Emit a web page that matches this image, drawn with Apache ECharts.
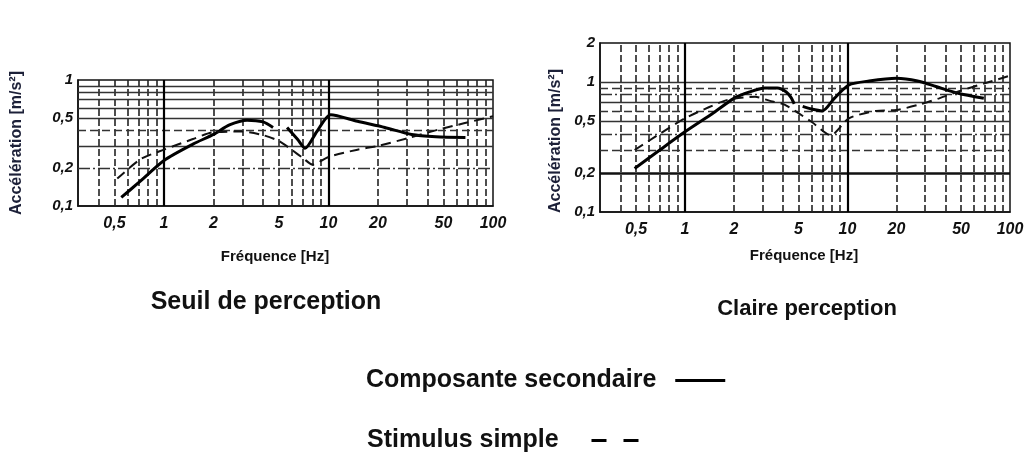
<!DOCTYPE html>
<html><head><meta charset="utf-8">
<script src="https://cdn.jsdelivr.net/npm/echarts@6/dist/echarts.min.js"></script>
<style>html,body{margin:0;padding:0;background:#fff}#c{width:1027px;height:457px}</style>
</head><body><div id="c"></div>
<script>
// ---- data ----
const xTickLabels = [0.5, 1, 2, 5, 10, 20, 50, 100];
const yTickLabelsLeft = [0.1, 0.2, 0.5, 1];
const yTickLabelsRight = [0.1, 0.2, 0.5, 1, 2];
const xGridMinor = [0.4, 0.5, 0.6, 0.7, 0.8, 0.9, 2, 3, 4, 5, 6, 7, 8, 9, 20, 30, 40, 50, 60, 70, 80, 90];
const xGridMajor = [1, 10];
const yGridLeft = [0.2, 0.3, 0.4, 0.5, 0.6, 0.7, 0.8, 0.9];
const yGridRight = [0.2, 0.3, 0.4, 0.5, 0.6, 0.7, 0.8, 0.9, 1];

const solidLeft = [[0.55,0.117],[0.7,0.153],[1,0.23],[1.5,0.31],[2,0.37],[2.5,0.44],[3.2,0.48],[4,0.465],[4.6,0.42],[5,null],
  [5.6,0.42],[6.5,0.337],[7.2,0.287],[8.5,0.39],[10.3,0.53],[15,0.47],[22,0.42],[32,0.37],[45,0.355],[68,0.35]];
const dashLeft = [[0.52,0.165],[0.72,0.235],[1,0.28],[1.5,0.34],[2,0.385],[3,0.39],[4,0.365],[5,0.328],[6,0.278],[7,0.24],[8,0.213],
  [10,0.245],[15,0.28],[20,0.3],[31,0.348],[47,0.405],[100,0.515]];
const solidRight = [[0.49,0.216],[0.7,0.3],[1,0.414],[1.5,0.58],[2,0.75],[2.5,0.84],[3.1,0.9],[3.7,0.9],[4.2,0.84],[4.5,0.76],[4.7,0.68],[5,null],
  [5.3,0.65],[6,0.62],[7,0.6],[8.3,0.75],[10.2,0.95],[13.6,1.02],[20,1.07],[27,1.02],[35,0.925],[48,0.82],[69,0.75]];
const dashRight = [[0.49,0.3],[0.7,0.4],[1,0.526],[1.4,0.64],[1.83,0.73],[2.7,0.77],[3.3,0.72],[4.1,0.67],[6,0.495],[7.9,0.39],
  [10.2,0.526],[15,0.6],[20,0.61],[27.5,0.67],[36.7,0.75],[48.6,0.85],[70,0.98],[100,1.12]];

// ---- chart ----
const FONT = 'Liberation Sans, Arial, sans-serif';
const chart = echarts.init(document.getElementById('c'), null, {renderer: 'canvas'});
const comma = v => String(v).replace('.', ',');

const minorV = {color: '#222', width: 1.6, type: [7, 3]};
const majorV = {color: '#000', width: 2.2, type: 'solid'};
const hSolid = {color: '#333', width: 1.3, type: 'solid'};
const hDash = {color: '#333', width: 1.3, type: [8, 4]};
const hDashDot = {color: '#333', width: 1.3, type: [12, 3, 2, 3]};
const hThick = {color: '#111', width: 2.5, type: 'solid'};
const leftHStyle = {0.2: hDashDot, 0.4: hDash};
const rightHStyle = {0.2: hThick, 0.3: hDash, 0.4: hDashDot, 0.6: hDash, 0.8: hDashDot, 0.9: hDash};

function gridLines(yVals, styleMap) {
  const d = [];
  xGridMinor.forEach(v => d.push({xAxis: v, lineStyle: minorV}));
  yVals.forEach(v => d.push({yAxis: v, lineStyle: styleMap[v] || hSolid}));
  xGridMajor.forEach(v => d.push({xAxis: v, lineStyle: majorV}));
  return d;
}

function xAxisDef(idx) {
  return {
    type: 'log', logBase: 10, gridIndex: idx, min: 0.3, max: 100,
    axisLine: {show: true, lineStyle: {color: '#111', width: 1.5}},
    axisTick: {show: false},
    splitLine: {show: false},
    minorTick: {show: false},
    axisLabel: {customValues: xTickLabels, formatter: comma, fontFamily: FONT, fontSize: 16,
      fontStyle: 'italic', fontWeight: 'bold', color: '#111', margin: 10}
  };
}
function yAxisDef(idx, max, labels) {
  return {
    type: 'log', logBase: 10, gridIndex: idx, min: 0.1, max: max,
    axisLine: {show: true, lineStyle: {color: '#111', width: 1.5}},
    axisTick: {show: false},
    splitLine: {show: false},
    axisLabel: {customValues: labels, formatter: comma, fontFamily: FONT, fontSize: 15,
      fontStyle: 'italic', fontWeight: 'bold', color: '#111', margin: 5}
  };
}
function curve(name, idx, data, dashed) {
  return {
    name: name, type: 'line', xAxisIndex: idx, yAxisIndex: idx, data: data, color: '#000',
    symbol: 'none', smooth: 0.25, connectNulls: false, z: 5, silent: true,
    lineStyle: dashed ? {color: '#111', width: 2, type: [10, 6]} : {color: '#000', width: 3, type: 'solid'}
  };
}
function gridSeries(idx, yVals, styleMap) {
  return {
    type: 'line', xAxisIndex: idx, yAxisIndex: idx, data: [], z: 1, silent: true,
    markLine: {silent: true, symbol: ['none', 'none'], label: {show: false}, animation: false, data: gridLines(yVals, styleMap)}
  };
}

const legendText = {fontFamily: FONT, fontSize: 25, fontWeight: 'bold', color: '#111'};

chart.setOption({
  animation: false,
  backgroundColor: '#fff',
  grid: [
    {left: 78, top: 80, width: 415, height: 126, show: true, borderColor: '#111', borderWidth: 1.5},
    {left: 600, top: 43, width: 410, height: 169, show: true, borderColor: '#111', borderWidth: 1.5}
  ],
  xAxis: [xAxisDef(0), xAxisDef(1)],
  yAxis: [yAxisDef(0, 1, yTickLabelsLeft), yAxisDef(1, 2, yTickLabelsRight)],
  legend: [
    {data: ['Composante secondaire'], left: 366, top: 368, padding: 0, align: 'right', itemWidth: 50, itemHeight: 14,
      formatter: n => n + '  ', textStyle: legendText, selectedMode: false,
      itemStyle: {opacity: 0}, lineStyle: {width: 3, color: '#000', type: 'solid'}},
    {data: ['Stimulus simple'], left: 367, top: 428, padding: 0, align: 'right', itemWidth: 50, itemHeight: 14,
      formatter: n => n + '    ', textStyle: legendText, selectedMode: false,
      itemStyle: {opacity: 0}, lineStyle: {width: 3, color: '#000', type: [15, 17]}}
  ],
  graphic: [
    {type: 'text', x: 17, y: 143, rotation: Math.PI / 2, style: {text: 'Accélération [m/s²]', font: 'bold 16px ' + FONT, fill: '#1c2038', textAlign: 'center', textVerticalAlign: 'middle'}},
    {type: 'text', x: 556, y: 141, rotation: Math.PI / 2, style: {text: 'Accélération [m/s²]', font: 'bold 16px ' + FONT, fill: '#1c2038', textAlign: 'center', textVerticalAlign: 'middle'}},
    {type: 'text', x: 275, y: 257, style: {text: 'Fréquence [Hz]', font: 'bold 15px ' + FONT, fill: '#111', textAlign: 'center', textVerticalAlign: 'middle'}},
    {type: 'text', x: 804, y: 256, style: {text: 'Fréquence [Hz]', font: 'bold 15px ' + FONT, fill: '#111', textAlign: 'center', textVerticalAlign: 'middle'}},
    {type: 'text', x: 266, y: 302, style: {text: 'Seuil de perception', font: 'bold 25px ' + FONT, fill: '#111', textAlign: 'center', textVerticalAlign: 'middle'}},
    {type: 'text', x: 807, y: 309, style: {text: 'Claire perception', font: 'bold 22px ' + FONT, fill: '#111', textAlign: 'center', textVerticalAlign: 'middle'}}
  ],
  series: [
    gridSeries(0, yGridLeft, leftHStyle),
    gridSeries(1, yGridRight, rightHStyle),
    curve('Composante secondaire', 0, solidLeft, false),
    curve('Stimulus simple', 0, dashLeft, true),
    curve('Composante secondaire', 1, solidRight, false),
    curve('Stimulus simple', 1, dashRight, true)
  ]
});
</script></body></html>
